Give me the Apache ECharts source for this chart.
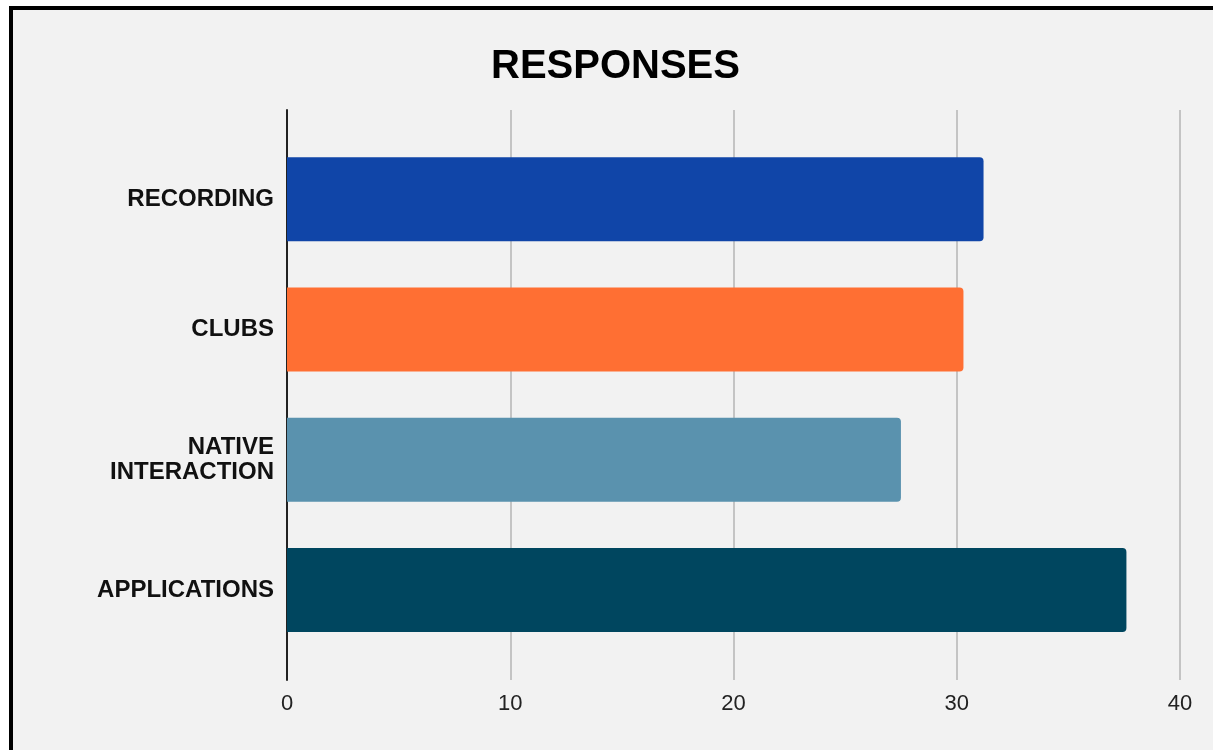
<!DOCTYPE html>
<html>
<head>
<meta charset="utf-8">
<script src="https://cdn.jsdelivr.net/npm/echarts@6/dist/echarts.min.js"></script>
<style>
html,body{margin:0;padding:0;background:#fff;}
#c{width:1213px;height:750px;}
</style>
</head>
<body>
<div id="c"></div>
<script>
const categories = ['RECORDING', 'CLUBS', 'NATIVE\nINTERACTION', 'APPLICATIONS'];
const values = [31.2, 30.3, 27.5, 37.6];
const xTicks = [0, 10, 20, 30, 40];
const barColors = ['#1045a8', '#ff6f33', '#5a92ae', '#00465f'];

const chart = echarts.init(document.getElementById('c'), null, {renderer: 'canvas'});
const FONT = '"Liberation Sans", Arial, sans-serif';
chart.setOption({
  backgroundColor: '#ffffff',
  animation: false,
  graphic: [{
    type: 'rect', z: -10, silent: true,
    shape: {x: 11, y: 8, width: 1400, height: 900},
    style: {fill: '#f2f2f2', stroke: '#000000', lineWidth: 4}
  }],
  title: {
    text: 'RESPONSES', left: 486, top: 42,
    textStyle: {fontFamily: FONT, fontWeight: 'bold', fontSize: 40, color: '#000'}
  },
  grid: [
    {left: 287, right: 33, top: 110, bottom: 70},
    {left: 287, right: 33, top: 134, bottom: 95}
  ],
  xAxis: [
    {
      gridIndex: 0, type: 'value', min: xTicks[0], max: xTicks[xTicks.length - 1], interval: 10,
      axisLine: {show: false}, axisTick: {show: false},
      splitLine: {show: true, lineStyle: {color: '#c4c4c4', width: 2}},
      axisLabel: {fontFamily: FONT, fontSize: 22, color: '#222', margin: 13}
    },
    {
      gridIndex: 1, type: 'value', min: xTicks[0], max: xTicks[xTicks.length - 1],
      show: false, splitLine: {show: false}
    }
  ],
  yAxis: [
    {
      gridIndex: 0, type: 'value', min: 0, max: 1,
      axisLine: {show: true, lineStyle: {color: '#222', width: 2}},
      axisTick: {show: false}, axisLabel: {show: false}, splitLine: {show: false}
    },
    {
      gridIndex: 1, type: 'category', data: categories, inverse: true,
      axisLine: {show: false}, axisTick: {show: false}, splitLine: {show: false},
      axisLabel: {fontFamily: FONT, fontWeight: 'bold', fontSize: 24, color: '#111', margin: 13, lineHeight: 25, align: 'right'}
    }
  ],
  series: [{
    type: 'bar', xAxisIndex: 1, yAxisIndex: 1, barWidth: 84,
    data: values.map((v, i) => ({value: v, itemStyle: {color: barColors[i]}})),
    itemStyle: {borderRadius: [0, 4, 4, 0]}
  }]
});
</script>
</body>
</html>
